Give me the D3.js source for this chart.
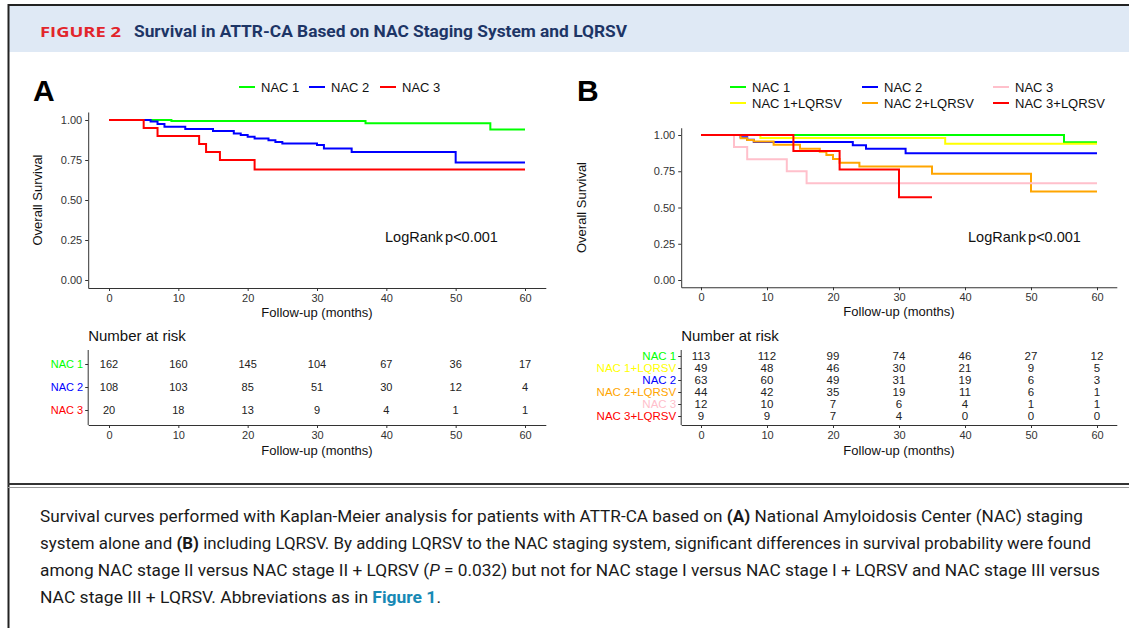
<!DOCTYPE html>
<html>
<head>
<meta charset="utf-8">
<script src="https://cdn.jsdelivr.net/npm/d3@7"></script>
<style>
  html, body { margin: 0; padding: 0; background: #fff; }
  svg { display: block; }
  text { font-family: "Liberation Sans", Arial, sans-serif; }
</style>
</head>
<body>
<div id="chart"></div>
<script>
// ---- data ----
const groupsA = ["NAC 1", "NAC 2", "NAC 3"];
const colorsA = ["#00ff00", "#0000ff", "#ff0000"];
const timesA = [
  [0, 9, 37, 55],
  [0, 6, 7, 8, 11, 15, 18, 19, 20, 21, 23, 24, 25, 30, 31, 35, 50],
  [0, 5, 7, 13, 14, 16, 21]
];
const survA = [
  [1, 0.994, 0.98, 0.94],
  [1, 0.99, 0.975, 0.958, 0.943, 0.931, 0.916, 0.906, 0.895, 0.885, 0.874, 0.863, 0.853, 0.843, 0.822, 0.80, 0.734],
  [1, 0.95, 0.90, 0.85, 0.80, 0.75, 0.69]
];
const endA = [60, 60, 60];
const riskA = [
  [162, 160, 145, 104, 67, 36, 17],
  [108, 103, 85, 51, 30, 12, 4],
  [20, 18, 13, 9, 4, 1, 1]
];

const groupsB = ["NAC 1", "NAC 1+LQRSV", "NAC 2", "NAC 2+LQRSV", "NAC 3", "NAC 3+LQRSV"];
const colorsB = ["#00ff00", "#ffff00", "#0000ff", "#ffa500", "#ffc0cb", "#ff0000"];
const timesB = [
  [0, 55],
  [0, 9, 37],
  [0, 6, 7, 8, 23, 25, 31],
  [0, 6, 7, 8, 11, 15, 18, 19, 20, 21, 24, 35, 50],
  [0, 5, 7, 13, 16],
  [0, 14, 21, 30]
];
const survB = [
  [1, 0.95],
  [1, 0.98, 0.94],
  [1, 0.984, 0.968, 0.952, 0.93, 0.905, 0.875],
  [1, 0.977, 0.966, 0.955, 0.932, 0.905, 0.885, 0.862, 0.834, 0.808, 0.782, 0.733, 0.61],
  [1, 0.917, 0.833, 0.75, 0.667],
  [1, 0.889, 0.762, 0.571]
];
const endB = [60, 60, 60, 60, 60, 35];
const riskB = [
  [113, 112, 99, 74, 46, 27, 12],
  [49, 48, 46, 30, 21, 9, 5],
  [63, 60, 49, 31, 19, 6, 3],
  [44, 42, 35, 19, 11, 6, 1],
  [12, 10, 7, 6, 4, 1, 1],
  [9, 9, 7, 4, 0, 0, 0]
];

const xTicks = [0, 10, 20, 30, 40, 50, 60];
const yTicks = [0, 0.25, 0.5, 0.75, 1];

// ---- drawing ----
const W = 1129, H = 628;
const svg = d3.select("#chart").append("svg").attr("width", W).attr("height", H);

// frame + header
svg.append("rect").attr("x", 8).attr("y", 5).attr("width", W - 8).attr("height", 47).attr("fill", "#dfe9f5");
svg.append("line").attr("x1", 8).attr("x2", W).attr("y1", 5).attr("y2", 5).attr("stroke", "#222").attr("stroke-width", 2);
svg.append("line").attr("x1", 8.5).attr("x2", 8.5).attr("y1", 4).attr("y2", H).attr("stroke", "#222").attr("stroke-width", 2);
svg.append("line").attr("x1", 8).attr("x2", W).attr("y1", 484).attr("y2", 484).attr("stroke", "#333").attr("stroke-width", 2);
svg.append("line").attr("x1", 8).attr("x2", W).attr("y1", 487.5).attr("y2", 487.5).attr("stroke", "#999").attr("stroke-width", 1);

svg.append("text").attr("x", 40).attr("y", 37).attr("fill", "#e2252b")
  .attr("font-size", 14).attr("font-weight", "bold").attr("textLength", 81).attr("lengthAdjust", "spacingAndGlyphs")
  .style("font-family", "'Open Sans', Roboto, sans-serif")
  .text("FIGURE 2");
svg.append("text").attr("x", 134).attr("y", 37).attr("fill", "#1d3566")
  .attr("font-size", 16).attr("font-weight", "bold").attr("textLength", 493).attr("lengthAdjust", "spacingAndGlyphs")
  .style("font-family", "Roboto, 'Open Sans', sans-serif")
  .text("Survival in ATTR-CA Based on NAC Staging System and LQRSV");

function drawPanel(opt) {
  const g = svg.append("g");
  const x = d3.scaleLinear().domain([0, 60]).range(opt.xr);
  const y = d3.scaleLinear().domain([0, 1]).range(opt.yr);
  const xe = x.copy().domain([-3, 63]).range([x(-3), x(63)]);
  const ye = y.copy().domain([-0.05, 1.05]).range([y(-0.05), y(1.05)]);

  const xAxis = g.append("g").attr("transform", `translate(0,${ye(-0.05)})`)
    .call(d3.axisBottom(xe).tickValues(xTicks).tickSize(3).tickSizeOuter(0).tickPadding(3));
  const yAxis = g.append("g").attr("transform", `translate(${xe(-3)},0)`)
    .call(d3.axisLeft(ye).tickValues(yTicks).tickFormat(d3.format(".2f")).tickSize(3).tickSizeOuter(0).tickPadding(3));
  [xAxis, yAxis].forEach(a => {
    a.selectAll("path, line").attr("stroke", "#333");
    a.selectAll("text").attr("fill", "#333").attr("font-size", 11).style("font-family", "'Liberation Sans', Arial, sans-serif");
  });

  g.append("text").attr("x", (xe(-3) + xe(63)) / 2).attr("y", ye(-0.05) + 29).attr("text-anchor", "middle")
    .attr("font-size", 13).attr("fill", "#111").text("Follow-up (months)");
  g.append("text").attr("transform", `translate(${opt.ytx},${(ye(0) + ye(1)) / 2}) rotate(-90)`)
    .attr("text-anchor", "middle").attr("font-size", 13).attr("fill", "#111").text("Overall Survival");

  const line = d3.line().x(d => x(d[0])).y(d => y(d[1])).curve(d3.curveStepAfter);
  opt.groups.forEach((name, i) => {
    const pts = opt.times[i].map((t, j) => [t, opt.surv[i][j]]);
    pts.push([opt.end[i], opt.surv[i][opt.surv[i].length - 1]]);
    g.append("path").attr("d", line(pts)).attr("fill", "none")
      .attr("stroke", opt.colors[i]).attr("stroke-width", 2);
  });

  g.append("text").attr("x", opt.lrx).attr("y", 242).attr("font-size", 14.5).attr("fill", "#111")
    .attr("word-spacing", -2).text("LogRank p<0.001");

  g.append("text").attr("x", opt.lblx).attr("y", 101).attr("font-size", 30).attr("font-weight", "bold")
    .attr("fill", "#000").text(opt.label);

  // legend
  opt.legend.forEach(d => {
    const i = opt.groups.indexOf(d.name);
    g.append("line").attr("x1", d.x).attr("x2", d.x + 16).attr("y1", d.y).attr("y2", d.y)
      .attr("stroke", opt.colors[i]).attr("stroke-width", 2);
    g.append("text").attr("x", d.x + 22).attr("y", d.y + 5).attr("font-size", 13).attr("fill", "#111").text(d.name);
  });

  // number at risk table
  const t = svg.append("g");
  t.append("text").attr("x", xe(-3)).attr("y", 341).attr("font-size", 15).attr("fill", "#111").text("Number at risk");
  const r = d3.scalePoint().domain(opt.groups).range(opt.rowr);
  const tx = t.append("g").attr("transform", "translate(0,425)")
    .call(d3.axisBottom(xe).tickValues(xTicks).tickSize(3).tickSizeOuter(0).tickPadding(3));
  tx.selectAll("path, line").attr("stroke", "#333");
  tx.selectAll("text").attr("fill", "#333").attr("font-size", 11).style("font-family", "'Liberation Sans', Arial, sans-serif");
  const ty = t.append("g").attr("transform", `translate(${xe(-3)},0)`)
    .call(d3.axisLeft(r).tickSize(3).tickSizeOuter(0).tickPadding(2));
  ty.select(".domain").remove();
  ty.selectAll("line").attr("stroke", "#333");
  ty.selectAll("text").attr("fill", (d) => opt.colors[opt.groups.indexOf(d)])
    .attr("font-size", opt.rowFont).style("font-family", "'Liberation Sans', Arial, sans-serif");
  t.append("line").attr("x1", xe(-3)).attr("x2", xe(-3)).attr("y1", 350).attr("y2", 425).attr("stroke", "#333");
  opt.groups.forEach((name, i) => {
    t.selectAll(null).data(opt.risk[i]).enter().append("text")
      .attr("x", (d, j) => x(xTicks[j])).attr("y", r(name)).attr("dy", "0.35em")
      .attr("text-anchor", "middle").attr("font-size", opt.rowFont).attr("fill", "#222").text(d => d);
  });
  t.append("text").attr("x", (xe(-3) + xe(63)) / 2).attr("y", 455).attr("text-anchor", "middle")
    .attr("font-size", 13).attr("fill", "#111").text("Follow-up (months)");
}

drawPanel({
  label: "A", lblx: 33, xr: [109, 525], yr: [280, 120], ytx: 42, lrx: 385,
  groups: groupsA, colors: colorsA, times: timesA, surv: survA, end: endA, risk: riskA,
  rowr: [364, 410], rowFont: 11,
  legend: [{ name: "NAC 1", x: 239, y: 87 }, { name: "NAC 2", x: 309, y: 87 }, { name: "NAC 3", x: 380, y: 87 }]
});

drawPanel({
  label: "B", lblx: 577, xr: [701, 1097], yr: [280, 135], ytx: 586, lrx: 968,
  groups: groupsB, colors: colorsB, times: timesB, surv: survB, end: endB, risk: riskB,
  rowr: [356, 416], rowFont: 11.5,
  legend: [
    { name: "NAC 1", x: 730, y: 87 }, { name: "NAC 1+LQRSV", x: 730, y: 103 },
    { name: "NAC 2", x: 862, y: 87 }, { name: "NAC 2+LQRSV", x: 862, y: 103 },
    { name: "NAC 3", x: 993, y: 87 }, { name: "NAC 3+LQRSV", x: 993, y: 103 }
  ]
});

// caption
const capLines = [
  { y: 522, len: 1043, parts: [["Survival curves performed with Kaplan-Meier analysis for patients with ATTR-CA based on "], ["(A)", "b"], [" National Amyloidosis Center (NAC) staging"]] },
  { y: 549, len: 1051, parts: [["system alone and "], ["(B)", "b"], [" including LQRSV. By adding LQRSV to the NAC staging system, significant differences in survival probability were found"]] },
  { y: 576, len: 1060, parts: [["among NAC stage II versus NAC stage II + LQRSV ("], ["P", "i"], [" = 0.032) but not for NAC stage I versus NAC stage I + LQRSV and NAC stage III versus"]] },
  { y: 603, len: 401, parts: [["NAC stage III + LQRSV. Abbreviations as in "], ["Figure 1", "link"], ["."]] }
];
capLines.forEach(l => {
  const tx = svg.append("text").attr("x", 40).attr("y", l.y).attr("font-size", 17).attr("fill", "#1a1a1a")
    .attr("textLength", l.len).attr("lengthAdjust", "spacingAndGlyphs")
    .style("font-family", "Roboto, 'Open Sans', sans-serif");
  l.parts.forEach(p => {
    const s = tx.append("tspan").text(p[0]);
    if (p[1] === "b") s.attr("font-weight", "bold");
    if (p[1] === "i") s.attr("font-style", "italic");
    if (p[1] === "link") s.attr("font-weight", "bold").attr("fill", "#1789b5");
  });
});
</script>
</body>
</html>
